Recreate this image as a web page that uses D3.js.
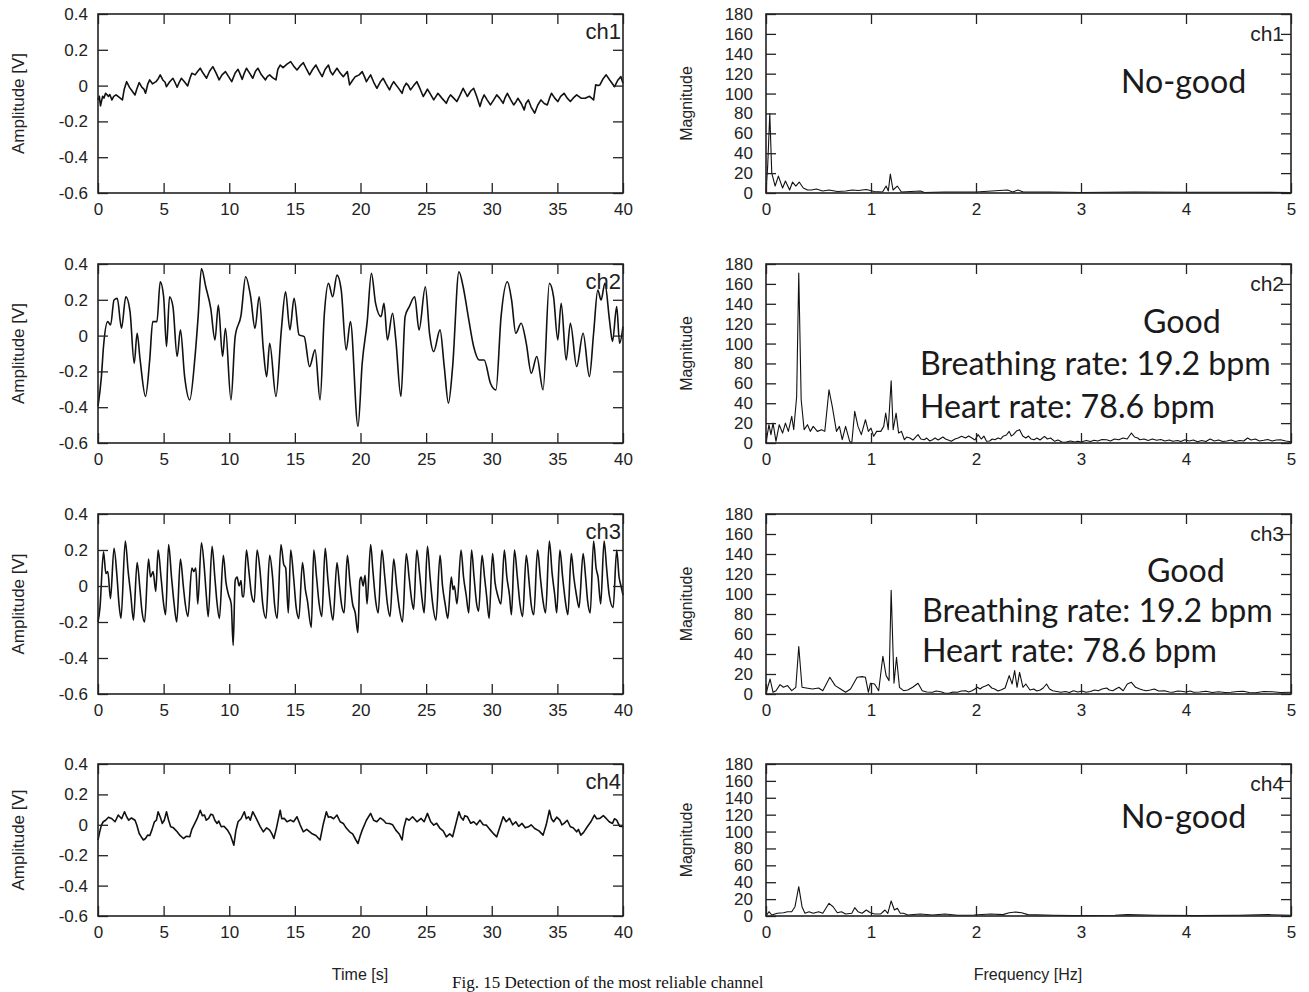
<!DOCTYPE html>
<html><head><meta charset="utf-8">
<script src="https://cdn.jsdelivr.net/npm/d3@7"></script>
<style>body{margin:0;background:#fff}svg{display:block}</style>
</head><body>
<svg id="c" width="1309" height="992"></svg>
<script>
// ---------- DATA ----------
const channels = ["ch1","ch2","ch3","ch4"];
const timeTicks = [0,5,10,15,20,25,30,35,40];
const ampTicks = [0.4,0.2,0,-0.2,-0.4,-0.6];
const freqTicks = [0,1,2,3,4,5];
const magTicks = [0,20,40,60,80,100,120,140,160,180];
const statusText = ["No-good","Good","Good","No-good"];
const breathingText = [null,"Breathing rate: 19.2 bpm","Breathing rate: 19.2 bpm",null];
const heartText = [null,"Heart rate: 78.6 bpm","Heart rate: 78.6 bpm",null];

const ch1Signal = [[0,-0.08],[0.1,-0.06],[0.19,-0.113],[0.35,-0.06],[0.45,-0.07],[0.58,-0.043],[0.8,-0.06],[0.9,-0.05],[1.06,-0.08],[1.2,-0.06],[1.38,-0.052],[1.6,-0.065],[1.86,-0.08],[2.0,-0.02],[2.18,0.022],[2.4,-0.01],[2.6,-0.03],[2.82,-0.052],[2.95,-0.02],[3.14,0.017],[3.35,-0.01],[3.5,-0.02],[3.62,-0.043],[3.8,0.01],[3.94,0.032],[4.15,0.01],[4.42,0.022],[4.6,0.04],[4.74,0.06],[4.95,0.03],[5.1,0.02],[5.22,-0.006],[5.45,0.02],[5.71,0.041],[5.85,0.02],[6.03,-0.009],[6.2,0.02],[6.35,0.041],[6.6,0.02],[6.83,-0.002],[7.0,0.04],[7.15,0.069],[7.4,0.06],[7.6,0.08],[7.79,0.097],[8.0,0.07],[8.27,0.041],[8.5,0.08],[8.75,0.106],[9.0,0.07],[9.23,0.032],[9.45,0.06],[9.71,0.078],[9.95,0.05],[10.19,0.022],[10.45,0.07],[10.67,0.091],[10.85,0.06],[10.99,0.035],[11.15,0.07],[11.31,0.097],[11.55,0.07],[11.79,0.041],[12.0,0.08],[12.18,0.097],[12.45,0.06],[12.76,0.032],[12.9,0.05],[13.08,0.06],[13.3,0.045],[13.56,0.032],[13.7,0.09],[13.88,0.115],[14.1,0.1],[14.4,0.12],[14.68,0.134],[14.9,0.11],[15.16,0.087],[15.4,0.11],[15.64,0.128],[15.9,0.09],[16.12,0.06],[16.35,0.09],[16.6,0.115],[16.85,0.08],[17.08,0.05],[17.3,0.09],[17.56,0.115],[17.7,0.08],[17.88,0.06],[18.05,0.08],[18.21,0.097],[18.45,0.07],[18.69,0.05],[18.85,0.065],[19.0,0.078],[19.17,0.004],[19.4,0.03],[19.6,0.05],[19.9,0.06],[20.13,0.078],[20.3,0.05],[20.45,0.022],[20.6,0.04],[20.77,0.06],[21.0,0.02],[21.25,-0.015],[21.5,0.02],[21.73,0.041],[21.95,0.01],[22.21,-0.024],[22.35,0.0],[22.53,0.022],[22.85,-0.01],[23.17,-0.043],[23.3,-0.01],[23.49,0.013],[23.65,0.0],[23.81,-0.024],[24.05,0.0],[24.29,0.022],[24.55,-0.02],[24.78,-0.061],[24.95,-0.04],[25.1,-0.02],[25.35,-0.05],[25.58,-0.08],[25.75,-0.06],[25.9,-0.043],[26.2,-0.07],[26.54,-0.099],[26.7,-0.07],[26.86,-0.052],[27.1,-0.07],[27.34,-0.089],[27.6,-0.05],[27.82,-0.015],[28.0,-0.04],[28.14,-0.061],[28.4,-0.03],[28.62,-0.015],[28.85,-0.06],[29.1,-0.117],[29.25,-0.08],[29.42,-0.052],[29.65,-0.08],[29.9,-0.108],[30.15,-0.08],[30.38,-0.052],[30.6,-0.07],[30.87,-0.099],[31.0,-0.07],[31.19,-0.043],[31.45,-0.08],[31.67,-0.108],[31.85,-0.09],[31.99,-0.071],[32.25,-0.1],[32.47,-0.136],[32.6,-0.1],[32.79,-0.08],[33.0,-0.12],[33.27,-0.154],[33.5,-0.11],[33.75,-0.08],[34.0,-0.1],[34.23,-0.108],[34.4,-0.07],[34.55,-0.043],[34.8,-0.07],[35.03,-0.089],[35.25,-0.06],[35.51,-0.043],[35.75,-0.07],[35.99,-0.089],[36.2,-0.07],[36.47,-0.052],[36.8,-0.07],[37.12,-0.071],[37.45,-0.06],[37.76,-0.08],[37.92,0.004],[38.1,0.0],[38.24,0.004],[38.5,0.04],[38.72,0.06],[39.0,0.03],[39.36,-0.006],[39.6,0.03],[39.84,0.05],[40,0.013]];

const ch2Signal = [[0,-0.396],[0.26,-0.229],[0.42,-0.061],[0.74,0.078],[0.96,0.059],[1.22,0.199],[1.47,0.208],[1.79,0.041],[2.12,0.217],[2.44,0.134],[2.76,-0.154],[2.98,0.013],[3.21,-0.136],[3.62,-0.34],[3.94,-0.136],[4.17,0.078],[4.49,0.078],[4.74,0.301],[5.0,0.217],[5.22,-0.061],[5.45,0.217],[5.71,0.162],[6.03,-0.117],[6.28,0.032],[6.6,-0.229],[6.99,-0.359],[7.37,-0.136],[7.63,0.106],[7.88,0.375],[8.21,0.273],[8.59,0.152],[8.91,-0.024],[9.17,0.171],[9.49,-0.117],[9.71,0.041],[10.13,-0.359],[10.45,-0.006],[10.9,0.115],[11.25,0.329],[11.63,0.217],[11.96,0.041],[12.28,0.217],[12.6,-0.08],[12.85,-0.229],[13.08,-0.043],[13.56,-0.34],[13.97,0.032],[14.29,0.245],[14.62,0.032],[14.94,0.208],[15.32,0.004],[15.71,-0.006],[16.12,-0.173],[16.54,-0.08],[16.92,-0.359],[17.24,0.115],[17.56,0.292],[17.88,0.217],[18.21,0.338],[18.53,0.255],[18.91,-0.08],[19.23,0.078],[19.81,-0.507],[20.13,-0.154],[20.51,0.078],[20.83,0.348],[21.15,0.18],[21.57,0.106],[21.79,0.18],[22.05,-0.024],[22.44,0.125],[22.69,-0.024],[23.08,-0.34],[23.4,0.106],[23.72,0.162],[24.13,0.217],[24.46,0.032],[24.94,0.273],[25.26,0.013],[25.58,-0.089],[26.06,0.032],[26.38,-0.173],[26.7,-0.377],[27.02,-0.173],[27.5,0.357],[27.82,0.273],[28.21,0.106],[28.62,-0.061],[29.04,-0.136],[29.42,-0.136],[29.9,-0.266],[30.32,-0.303],[30.71,0.106],[31.19,0.301],[31.51,0.199],[31.83,0.013],[32.24,0.069],[32.63,-0.043],[33.01,-0.21],[33.43,-0.117],[33.91,-0.303],[34.39,0.292],[34.71,0.217],[35.03,-0.024],[35.29,0.18],[35.67,-0.136],[35.99,0.069],[36.47,-0.173],[36.96,0.013],[37.44,-0.229],[37.76,0.013],[38.08,0.255],[38.33,0.199],[38.62,0.292],[38.97,0.087],[39.2,-0.033],[39.52,0.162],[39.74,-0.043],[40,0.05]];

const ch3Signal = [[0,-0.2],[0.15,-0.12],[0.42,0.19],[0.6,0.07],[0.75,0.08],[0.95,-0.07],[1.22,0.21],[1.45,0.05],[1.6,-0.1],[1.75,-0.18],[2.08,0.25],[2.3,0.08],[2.5,-0.05],[2.7,-0.19],[2.98,0.13],[3.2,-0.02],[3.35,-0.14],[3.55,-0.2],[3.85,0.15],[4.0,0.05],[4.2,0.08],[4.4,-0.03],[4.58,0.2],[4.8,0.05],[5.0,-0.1],[5.15,-0.16],[5.38,0.23],[5.6,0.05],[5.8,-0.1],[6.0,-0.2],[6.28,0.15],[6.5,0.0],[6.65,-0.1],[6.85,-0.17],[7.15,0.1],[7.3,0.08],[7.45,0.1],[7.6,-0.1],[7.88,0.24],[8.1,0.1],[8.25,-0.05],[8.4,-0.17],[8.69,0.22],[8.9,0.05],[9.05,-0.08],[9.25,-0.18],[9.55,0.17],[9.75,0.02],[9.95,-0.05],[10.15,-0.1],[10.3,-0.33],[10.45,0.03],[10.6,0.05],[10.75,0.0],[10.9,0.03],[11.0,-0.06],[11.1,-0.06],[11.31,0.2],[11.5,0.08],[11.7,-0.05],[11.9,-0.09],[12.12,0.2],[12.35,0.08],[12.55,-0.1],[12.8,-0.18],[13.08,0.17],[13.3,0.05],[13.45,-0.1],[13.65,-0.18],[13.94,0.23],[14.15,0.12],[14.3,0.1],[14.5,-0.15],[14.68,0.2],[14.9,0.05],[15.1,-0.12],[15.3,-0.18],[15.58,0.13],[15.8,-0.02],[15.95,-0.08],[16.25,-0.23],[16.44,0.2],[16.65,0.05],[16.85,-0.1],[17.05,-0.17],[17.31,0.21],[17.5,0.05],[17.7,-0.1],[17.9,-0.19],[18.21,0.13],[18.4,0.0],[18.55,-0.1],[18.75,-0.15],[19.0,0.17],[19.2,0.02],[19.4,-0.1],[19.6,-0.15],[19.8,-0.26],[19.95,0.03],[20.05,0.05],[20.2,0.0],[20.35,0.06],[20.5,-0.1],[20.77,0.23],[20.95,0.08],[21.15,-0.08],[21.35,-0.15],[21.63,0.2],[21.85,0.05],[22.05,-0.1],[22.25,-0.17],[22.53,0.15],[22.75,0.0],[22.95,-0.12],[23.2,-0.2],[23.49,0.18],[23.7,0.05],[23.9,-0.08],[24.05,-0.13],[24.29,0.2],[24.5,0.07],[24.7,-0.08],[24.85,-0.15],[25.1,0.22],[25.3,0.05],[25.5,-0.1],[25.75,-0.19],[26.06,0.17],[26.25,0.0],[26.45,-0.1],[26.65,-0.18],[26.92,0.05],[27.05,-0.02],[27.15,0.0],[27.35,-0.1],[27.66,0.2],[27.85,0.05],[28.05,-0.05],[28.25,-0.15],[28.46,0.2],[28.65,0.05],[28.85,-0.1],[29.0,-0.14],[29.26,0.17],[29.45,0.05],[29.6,-0.05],[29.8,-0.18],[30.06,0.18],[30.25,0.02],[30.45,-0.05],[30.7,-0.1],[30.96,0.2],[31.15,0.05],[31.35,-0.05],[31.5,-0.16],[31.73,0.2],[31.95,0.05],[32.15,-0.1],[32.35,-0.17],[32.63,0.17],[32.85,0.02],[33.0,-0.1],[33.2,-0.16],[33.49,0.2],[33.7,0.05],[33.9,-0.08],[34.1,-0.15],[34.39,0.25],[34.6,0.07],[34.8,-0.05],[34.95,-0.15],[35.19,0.2],[35.4,0.05],[35.6,-0.08],[35.8,-0.16],[36.06,0.18],[36.25,0.05],[36.45,-0.05],[36.65,-0.12],[36.96,0.18],[37.15,0.05],[37.3,-0.08],[37.5,-0.15],[37.76,0.25],[37.95,0.1],[38.1,0.05],[38.3,-0.1],[38.56,0.25],[38.75,0.1],[38.95,-0.05],[39.25,-0.12],[39.52,0.2],[39.7,0.05],[39.85,0.0],[40,-0.05]];

const ch4Signal = [[0,-0.1],[0.12,-0.05],[0.26,-0.002],[0.4,0.02],[0.58,0.03],[0.8,0.05],[1.06,0.04],[1.3,0.02],[1.54,0.064],[1.8,0.04],[2.02,0.086],[2.2,0.05],[2.34,0.03],[2.55,0.045],[2.82,0.03],[2.95,0.0],[3.14,-0.057],[3.3,-0.08],[3.46,-0.1],[3.62,-0.09],[3.78,-0.068],[3.95,-0.07],[4.1,-0.035],[4.3,0.02],[4.45,0.03],[4.58,0.086],[4.75,0.05],[4.9,0.009],[5.05,0.03],[5.22,0.086],[5.38,0.03],[5.54,-0.013],[5.75,-0.02],[6.03,-0.046],[6.25,-0.07],[6.51,-0.09],[6.75,-0.075],[6.99,-0.079],[7.15,-0.03],[7.31,-0.002],[7.55,0.04],[7.79,0.096],[7.95,0.06],[8.11,0.064],[8.25,0.03],[8.43,0.042],[8.6,0.07],[8.75,0.064],[8.9,0.03],[9.07,0.009],[9.2,0.025],[9.39,-0.013],[9.6,-0.01],[9.87,-0.035],[10.1,-0.07],[10.35,-0.134],[10.5,-0.04],[10.67,0.02],[10.9,0.04],[11.15,0.086],[11.3,0.04],[11.47,0.053],[11.6,0.03],[11.79,0.086],[11.95,0.06],[12.12,0.031],[12.35,-0.01],[12.6,-0.046],[12.85,-0.02],[13.08,-0.035],[13.25,-0.06],[13.4,-0.09],[13.6,-0.02],[13.88,0.096],[14.0,0.04],[14.2,0.042],[14.4,0.02],[14.68,0.031],[14.9,0.02],[15.16,0.053],[15.4,0.0],[15.64,-0.046],[15.9,-0.03],[16.28,-0.057],[16.6,-0.07],[16.92,-0.1],[17.15,0.0],[17.4,0.086],[17.55,0.05],[17.72,0.053],[17.95,0.04],[18.21,0.064],[18.45,0.02],[18.69,0.009],[18.9,-0.02],[19.17,-0.046],[19.4,-0.06],[19.65,-0.1],[19.81,-0.123],[19.95,-0.08],[20.13,-0.035],[20.45,0.03],[20.77,0.075],[21.0,0.03],[21.25,0.02],[21.5,0.045],[21.73,0.031],[21.95,0.01],[22.21,0.009],[22.45,0.0],[22.69,-0.035],[22.95,-0.06],[23.17,-0.1],[23.3,-0.02],[23.49,0.042],[23.7,0.03],[23.97,0.053],[24.3,0.02],[24.62,0.042],[24.85,0.02],[25.1,0.075],[25.35,0.02],[25.58,-0.002],[25.8,0.01],[26.06,-0.024],[26.3,-0.04],[26.54,-0.079],[26.8,-0.06],[27.02,-0.079],[27.25,0.0],[27.5,0.086],[27.65,0.05],[27.82,0.031],[27.95,0.06],[28.14,0.053],[28.4,0.01],[28.62,0.02],[28.85,0.0],[29.1,0.031],[29.35,0.0],[29.58,-0.002],[29.75,-0.02],[29.9,-0.035],[30.15,-0.06],[30.38,-0.079],[30.6,-0.02],[30.87,0.053],[31.1,0.02],[31.35,0.042],[31.6,0.0],[31.83,0.02],[32.05,-0.01],[32.31,0.009],[32.55,-0.02],[32.79,-0.013],[33.0,0.0],[33.27,-0.024],[33.6,-0.04],[33.91,-0.068],[34.15,0.0],[34.39,0.096],[34.55,0.04],[34.71,0.02],[34.95,0.05],[35.19,0.031],[35.35,0.0],[35.51,0.009],[35.75,0.03],[35.99,-0.013],[36.2,-0.02],[36.47,-0.046],[36.6,-0.03],[36.79,-0.068],[37.0,-0.05],[37.28,-0.013],[37.55,0.02],[37.82,0.064],[38.0,0.04],[38.24,0.042],[38.5,0.06],[38.72,0.042],[38.95,0.02],[39.2,0.009],[39.35,0.04],[39.52,0.031],[39.75,-0.01],[40,-0.013]];

const ch1Spectrum = [[0,0],[0.016,27],[0.036,80],[0.055,20],[0.087,7],[0.118,17],[0.158,5],[0.185,12],[0.225,3],[0.253,11],[0.284,7],[0.316,11],[0.355,5],[0.395,3],[0.434,3],[0.48,4],[0.54,2],[0.6,3],[0.68,1.5],[0.76,2],[0.82,3],[0.88,2.5],[0.955,3.5],[1.03,1.5],[1.11,1],[1.144,7],[1.165,2],[1.184,19],[1.21,3],[1.25,7],[1.29,1],[1.47,2],[1.51,0.5],[1.7,1],[2.0,1],[2.3,3],[2.35,1],[2.4,3],[2.45,1],[2.7,1],[3.0,0.5],[3.5,1],[4.0,0.7],[4.5,0.8],[5.0,0.5]];

const ch2Spectrum = [[0,0],[0.028,18.4],[0.047,8.4],[0.067,20],[0.095,1.7],[0.126,18.4],[0.158,10],[0.185,20],[0.213,11.7],[0.245,26.8],[0.264,13.4],[0.292,46.8],[0.312,171],[0.335,43.5],[0.363,13.4],[0.395,18.4],[0.422,11.7],[0.45,16.7],[0.489,11.7],[0.529,13.4],[0.56,11.7],[0.6,53.5],[0.631,36.8],[0.671,11.7],[0.699,16.7],[0.726,3.3],[0.758,16.7],[0.797,1.7],[0.817,0],[0.845,31.8],[0.876,16.7],[0.908,8.4],[0.947,23.4],[0.975,11.7],[1.0,15],[1.026,6.7],[1.054,11.7],[1.093,11.7],[1.121,16.7],[1.14,30],[1.164,13.4],[1.192,62.6],[1.211,13.4],[1.239,30],[1.263,10],[1.29,11.7],[1.318,3.3],[1.34,6],[1.37,5],[1.4,3],[1.425,6],[1.448,8.4],[1.475,4],[1.507,3.3],[1.53,5],[1.56,2],[1.586,3.3],[1.61,5],[1.64,3],[1.685,6],[1.71,4],[1.735,3],[1.764,1.7],[1.8,4],[1.83,5],[1.863,6.7],[1.9,5],[1.93,7],[1.961,5],[1.99,3],[2.02,8.4],[2.05,4],[2.075,7],[2.1,1.7],[2.13,2],[2.155,4],[2.18,3.3],[2.21,5],[2.235,4],[2.257,6.7],[2.29,8],[2.316,11.7],[2.336,7],[2.356,8.4],[2.385,12],[2.415,13.4],[2.445,7],[2.474,5],[2.5,7],[2.525,4],[2.553,3.3],[2.58,5],[2.61,3],[2.652,6.7],[2.68,4],[2.71,5],[2.75,1.7],[2.78,3],[2.82,1],[2.85,0.7],[2.9,2],[2.94,1],[2.97,1.7],[3.0,1],[3.05,2.5],[3.09,1.5],[3.125,2.7],[3.16,2],[3.2,3.5],[3.244,3.3],[3.28,2],[3.32,4],[3.36,3.3],[3.4,5],[3.44,4],[3.48,10],[3.51,6],[3.54,5],[3.56,3.3],[3.6,4],[3.64,2.5],[3.68,4],[3.72,2.7],[3.76,3.5],[3.8,2],[3.84,3],[3.875,1.7],[3.92,2.5],[3.95,1.5],[3.99,3.3],[4.03,2],[4.07,3],[4.11,1.3],[4.15,2.5],[4.19,1.5],[4.23,4],[4.27,2],[4.31,3],[4.35,1.5],[4.39,2],[4.43,3],[4.47,1.5],[4.51,2.5],[4.55,2],[4.586,5],[4.62,3],[4.66,4],[4.7,2],[4.74,2.7],[4.78,3.5],[4.82,2],[4.86,3],[4.9,3.3],[4.95,2],[5.0,1.3]];

const ch3Spectrum = [[0,0],[0.016,6.7],[0.039,15],[0.067,1.7],[0.095,3.3],[0.134,9.4],[0.166,6.7],[0.205,8.4],[0.245,3.3],[0.284,6.7],[0.312,47.5],[0.343,6.7],[0.383,6],[0.442,5],[0.501,6],[0.541,3.3],[0.608,16.7],[0.659,8.4],[0.71,5],[0.758,1.7],[0.805,5],[0.868,16.7],[0.916,17.4],[0.947,16.7],[0.975,1.7],[0.994,10.7],[1.034,10],[1.073,3.3],[1.113,37.8],[1.144,18.4],[1.172,13.4],[1.192,103.7],[1.219,10.7],[1.243,36.8],[1.271,6.7],[1.31,3.3],[1.35,4],[1.397,6.7],[1.448,10.7],[1.488,3.3],[1.53,2],[1.586,1.7],[1.62,3],[1.665,2.3],[1.7,1],[1.744,0.7],[1.78,2],[1.823,1.7],[1.86,3],[1.902,3.3],[1.93,2],[1.961,3.3],[1.99,5],[2.013,6.7],[2.04,5],[2.06,6.7],[2.09,8],[2.119,9.4],[2.15,6],[2.178,5],[2.21,3],[2.237,4],[2.277,6],[2.316,18.4],[2.344,10],[2.368,23.4],[2.391,6.7],[2.415,21.7],[2.447,6.7],[2.474,10],[2.514,4],[2.55,5],[2.58,3],[2.612,4],[2.64,6],[2.672,10],[2.7,5],[2.731,3.3],[2.77,2.5],[2.81,1.7],[2.85,2.5],[2.89,1.5],[2.928,3.3],[2.97,2],[3.01,3],[3.047,1.7],[3.09,2.5],[3.13,4],[3.165,3.3],[3.2,5],[3.244,6],[3.27,4],[3.303,3.3],[3.33,5],[3.362,6.7],[3.402,3.3],[3.441,10],[3.48,11.7],[3.52,6.7],[3.56,5],[3.59,4],[3.619,3.3],[3.66,4],[3.698,5],[3.74,3],[3.796,3.3],[3.84,2],[3.875,1.7],[3.92,3],[3.954,2.7],[4.0,2],[4.04,3],[4.073,1.7],[4.13,2],[4.191,2.7],[4.25,1.5],[4.31,2.3],[4.37,1.5],[4.428,1.7],[4.49,2.5],[4.546,2.7],[4.6,1.5],[4.665,1.3],[4.74,2.5],[4.822,2.3],[4.9,1.5],[5.0,1.7]];

const ch4Spectrum = [[0,0],[0.028,5.1],[0.055,1.2],[0.107,3.2],[0.166,3.9],[0.205,5.1],[0.245,5.1],[0.276,11],[0.312,34.7],[0.343,11],[0.371,3.2],[0.41,5.1],[0.45,3.2],[0.501,5.1],[0.541,3.2],[0.6,15],[0.639,11],[0.679,3.9],[0.718,5.1],[0.758,2.4],[0.817,3.2],[0.845,9.9],[0.876,5.1],[0.916,3.2],[0.955,7.1],[0.994,3.9],[1.034,2.4],[1.093,2.4],[1.133,7.1],[1.16,3.2],[1.192,17.8],[1.223,7.1],[1.251,9.1],[1.279,3.2],[1.31,3.2],[1.35,1.2],[1.468,2.4],[1.586,1.2],[1.705,2.4],[1.823,0.8],[1.981,1.2],[2.139,2.4],[2.257,1.6],[2.316,3.9],[2.376,4.7],[2.435,3.9],[2.494,1.6],[2.731,0.8],[2.928,0.4],[3.323,0.8],[3.441,1.6],[3.717,0.8],[4.112,0.4],[4.507,0.8],[4.783,1.6],[5.0,0.8]];

const signals = [ch1Signal, ch2Signal, ch3Signal, ch4Signal];
const spectra = [ch1Spectrum, ch2Spectrum, ch3Spectrum, ch4Spectrum];

// ---------- LAYOUT ----------
const svg = d3.select("#c");
const rows = [[14,193],[264,443],[514,694],[764,916]];
const leftX = [98,623], rightX = [766,1291];
const tickFont = "'Liberation Sans', Arial, sans-serif";
const ink = "#222";
const signalCurves = [d3.curveLinear, d3.curveMonotoneX, d3.curveMonotoneX, d3.curveLinear];

function frame(g, xs, ys, xTicks, yTicks, xFmt, yFmt, padY) {
  const [x0,x1] = xs.range(), [yb,yt] = ys.range();
  const bottom = g.append("g").attr("transform",`translate(0,${yb})`)
    .call(d3.axisBottom(xs).tickValues(xTicks).tickSize(-10).tickSizeOuter(0).tickPadding(10).tickFormat(xFmt));
  const top = g.append("g").attr("transform",`translate(0,${yt})`)
    .call(d3.axisTop(xs).tickValues(xTicks).tickSize(-10).tickSizeOuter(0).tickFormat(""));
  const left = g.append("g").attr("transform",`translate(${x0},0)`)
    .call(d3.axisLeft(ys).tickValues(yTicks).tickSize(-10).tickSizeOuter(0).tickPadding(padY).tickFormat(yFmt));
  const right = g.append("g").attr("transform",`translate(${x1},0)`)
    .call(d3.axisRight(ys).tickValues(yTicks).tickSize(-10).tickSizeOuter(0).tickFormat(""));
  [bottom,top,left,right].forEach(a=>{
    a.select(".domain").remove();
    a.selectAll("line").attr("stroke",ink).attr("stroke-width",1.3);
    a.selectAll("text").attr("fill",ink).style("font-family",tickFont).style("font-size","17px");
  });
  g.append("rect").attr("x",x0).attr("y",yt).attr("width",x1-x0).attr("height",yb-yt)
    .attr("fill","none").attr("stroke",ink).attr("stroke-width",1.6);
}

channels.forEach((ch,i)=>{
  const [yt,yb] = rows[i];
  // time domain
  const gl = svg.append("g");
  const xt = d3.scaleLinear().domain([0,40]).range(leftX);
  const ya = d3.scaleLinear().domain([-0.6,0.4]).range([yb,yt]);
  gl.append("path").datum(signals[i])
    .attr("d", d3.line().curve(signalCurves[i]).x(d=>xt(d[0])).y(d=>ya(d[1])))
    .attr("fill","none").attr("stroke","#111").attr("stroke-width",1.6).attr("stroke-linejoin","round");
  frame(gl, xt, ya, timeTicks, ampTicks, d3.format("d"), d=> d===0?"0":d3.format(".1f")(d).replace("−","-"), 10);
  gl.append("text").attr("x",leftX[1]-2).attr("y",yt+25).attr("text-anchor","end")
    .style("font-family",tickFont).style("font-size","22px").attr("fill",ink).text(ch);
  gl.append("text").attr("transform",`translate(24,${(yt+yb)/2}) rotate(-90)`).attr("text-anchor","middle")
    .style("font-family",tickFont).style("font-size","17px").attr("fill",ink).text("Amplitude [V]");

  // frequency domain
  const gr = svg.append("g");
  const xf = d3.scaleLinear().domain([0,5]).range(rightX);
  const ym = d3.scaleLinear().domain([0,180]).range([yb,yt]);
  gr.append("path").datum(spectra[i])
    .attr("d", d3.line().x(d=>xf(d[0])).y(d=>ym(d[1])))
    .attr("fill","none").attr("stroke","#111").attr("stroke-width",1.1).attr("stroke-linejoin","round");
  frame(gr, xf, ym, freqTicks, magTicks, d3.format("d"), d3.format("d"), 13);
  gr.append("text").attr("x",rightX[1]-7).attr("y",yt+27).attr("text-anchor","end")
    .style("font-family",tickFont).style("font-size","21px").attr("fill",ink).text(ch);
  gr.append("text").attr("transform",`translate(692,${(yt+yb)/2}) rotate(-90)`).attr("text-anchor","middle")
    .style("font-family",tickFont).style("font-size","16px").attr("fill",ink).text("Magnitude");
});

// annotations
const annFont = "Lato, 'Open Sans', sans-serif";
const probe = svg.append("text").style("font-family",annFont).style("font-size","30px").text(breathingText[1]);
const annSize = 30 * 351 / probe.node().getComputedTextLength();
probe.remove();
const annPos = [
  {s:[1121,93]},
  {s:[1143,333], b:[920,375], h:[920,418]},
  {s:[1147,582], b:[922,622], h:[922,662]},
  {s:[1121,828]}
];
channels.forEach((ch,i)=>{
  const p = annPos[i];
  const add=(xy,t)=>svg.append("text").attr("x",xy[0]).attr("y",xy[1])
    .style("font-family",annFont).style("font-size",annSize+"px").attr("fill","#1a1a1a").text(t);
  add(p.s, statusText[i]);
  if (breathingText[i]) add(p.b, breathingText[i]);
  if (heartText[i]) add(p.h, heartText[i]);
});

// axis titles
svg.append("text").attr("x",360).attr("y",980).attr("text-anchor","middle")
  .style("font-family",tickFont).style("font-size","16px").attr("fill",ink).text("Time [s]");
svg.append("text").attr("x",1028).attr("y",980).attr("text-anchor","middle")
  .style("font-family",tickFont).style("font-size","16px").attr("fill",ink).text("Frequency [Hz]");
// caption
svg.append("text").attr("x",452).attr("y",988)
  .style("font-family","'Liberation Serif', 'Times New Roman', serif").style("font-size","17px").attr("fill","#111")
  .text("Fig. 15 Detection of the most reliable channel");
</script>
</body></html>
